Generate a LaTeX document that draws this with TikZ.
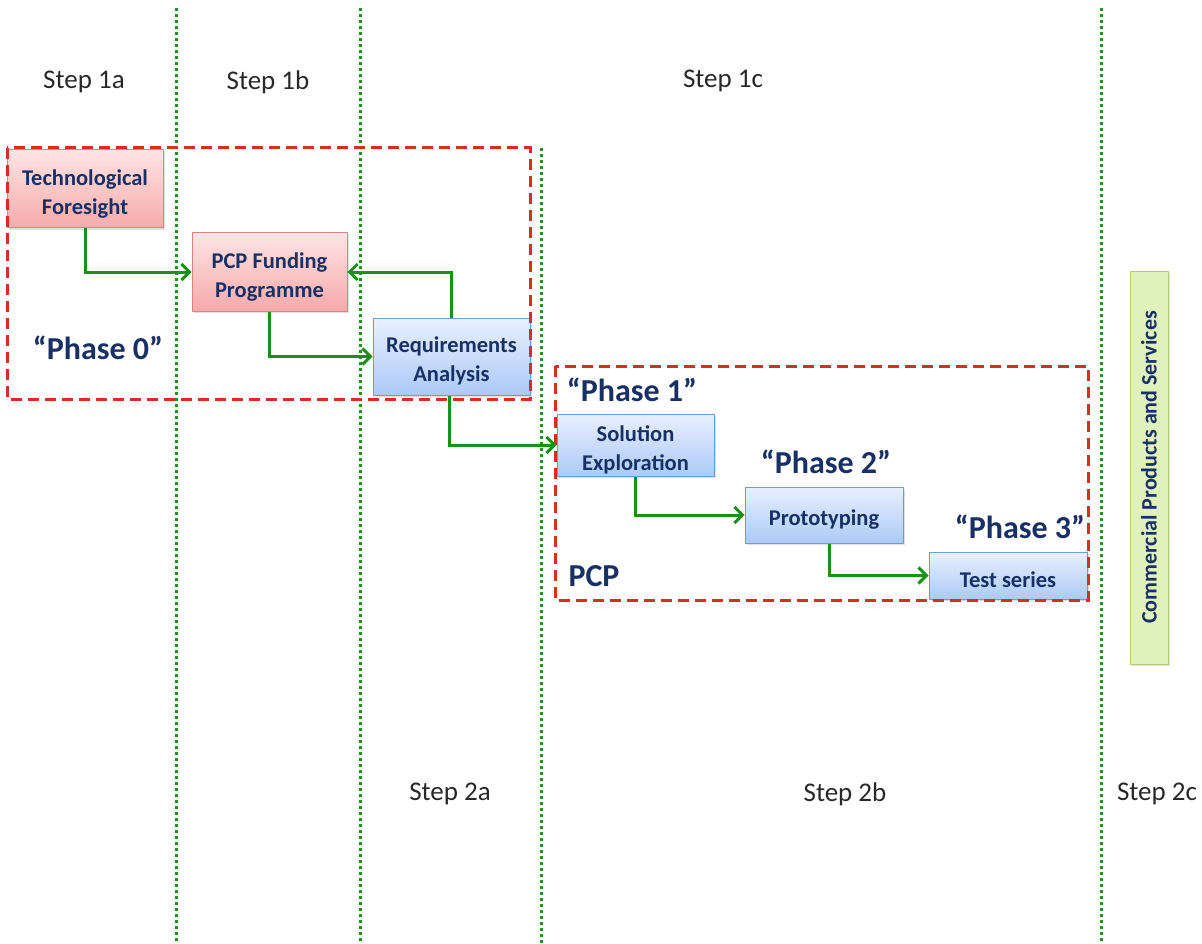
\documentclass[tikz,border=0pt]{standalone}
\usepackage{fontspec}
\setmainfont{Carlito}
\usetikzlibrary{arrows.meta,shadows}
\definecolor{navy}{RGB}{24,48,100}
\definecolor{steptext}{RGB}{40,40,40}
\definecolor{gline}{RGB}{30,150,30}
\definecolor{garrow}{RGB}{25,145,25}
\definecolor{rdash}{RGB}{215,45,35}
\definecolor{pinktop}{RGB}{255,228,228}
\definecolor{pinkbot}{RGB}{246,170,170}
\definecolor{pinkdraw}{RGB}{225,130,130}
\definecolor{bluetop}{RGB}{232,240,255}
\definecolor{bluebot}{RGB}{172,202,246}
\definecolor{bluedraw}{RGB}{110,155,215}
\definecolor{greenfill}{RGB}{222,242,185}
\definecolor{greendraw}{RGB}{175,205,125}
\newcommand{\boxstrut}{\rule{0pt}{25pt}}
\tikzset{
  divider/.style={gline, line width=3pt, dash pattern=on 3pt off 3pt},
  phasebox/.style={rdash, line width=3pt, dash pattern=on 11pt off 6pt},
  flow/.style={garrow, line width=3pt, -{Straight Barb[length=8pt,width=16pt,line width=3pt]}},
  steplabel/.style={text=steptext, font=\fontsize{27}{31}\selectfont},
  phaselabel/.style={text=navy, font=\fontsize{32}{36}\selectfont\bfseries},
  procbox/.style={draw, line width=1pt, inner sep=0pt, align=center, text=navy,
    font=\fontsize{22.5}{29}\selectfont\bfseries,
    drop shadow={opacity=0.25, shadow xshift=1.5pt, shadow yshift=-2pt}},
  pinkbox/.style={procbox, draw=pinkdraw, top color=pinktop, bottom color=pinkbot},
  bluebox/.style={procbox, draw=bluedraw, top color=bluetop, bottom color=bluebot},
}
\begin{document}
\begin{tikzpicture}[x=1pt,y=-1pt]
\useasboundingbox (0,0) rectangle (1202,944);
% dividers
\draw[divider] (176,8) -- (176,944);
\draw[divider] (360,8) -- (360,944);
\draw[divider] (541,148) -- (541,944);
\draw[divider] (1101,8) -- (1101,944);
% step labels
\node[steplabel] (s1a) at (84,82) {Step 1a};
\node[steplabel] (s1b) at (268,82) {Step 1b};
\node[steplabel] (s1c) at (723,81) {Step 1c};
\node[steplabel] (s2a) at (450,794) {Step 2a};
\node[steplabel] (s2b) at (845,794) {Step 2b};
\node[steplabel] (s2c) at (1157,794) {Step 2c};
% process boxes
\node[pinkbox, minimum width=156pt, minimum height=78pt] (tf) at (85,189) {\boxstrut Technological\\Foresight};
\node[pinkbox, minimum width=155pt, minimum height=78pt] (pcp) at (269.5,272) {\boxstrut PCP Funding\\Programme};
\node[bluebox, minimum width=157pt, minimum height=77pt] (ra) at (451.5,356.5) {\boxstrut Requirements\\Analysis};
\node[bluebox, minimum width=157pt, minimum height=62pt] (se) at (635.5,445) {\boxstrut Solution\\Exploration};
\node[bluebox, minimum width=158pt, minimum height=56pt] (pr) at (824,515) {\boxstrut Prototyping};
\node[bluebox, minimum width=158pt, minimum height=47pt] (ts) at (1008,575.5) {\boxstrut Test series};
\node[draw=greendraw, fill=greenfill, line width=1pt, inner sep=0pt,
  minimum width=393pt, minimum height=38pt, rotate=90, text=navy,
  font=\fontsize{22}{26}\selectfont\bfseries,
  drop shadow={opacity=0.25, shadow xshift=1.5pt, shadow yshift=-2pt}] (cps) at (1149,467.5) {Commercial Products and Services};
% phase frames
\draw[phasebox] (7,148) rectangle (530,399);
\draw[phasebox] (555,366) rectangle (1088,600);
% phase labels
\node[phaselabel] (p0) at (98,348) {“Phase 0”};
\node[phaselabel] (p1) at (632,390) {“Phase 1”};
\node[phaselabel] (p2) at (826,462) {“Phase 2”};
\node[phaselabel] (p3) at (1020,527) {“Phase 3”};
\node[phaselabel] (pcplbl) at (594,576) {PCP};
% flows
\draw[flow] (tf.south) |- (pcp.west);
\draw[flow] (pcp.south) |- (ra.west);
\draw[flow] (ra.north) |- (pcp.east);
\draw[flow] ([xshift=-2pt]ra.south) |- (se.west);
\draw[flow] (se.south) |- (pr.west);
\draw[flow] ([xshift=5pt]pr.south) |- (ts.west);
\end{tikzpicture}
\end{document}
